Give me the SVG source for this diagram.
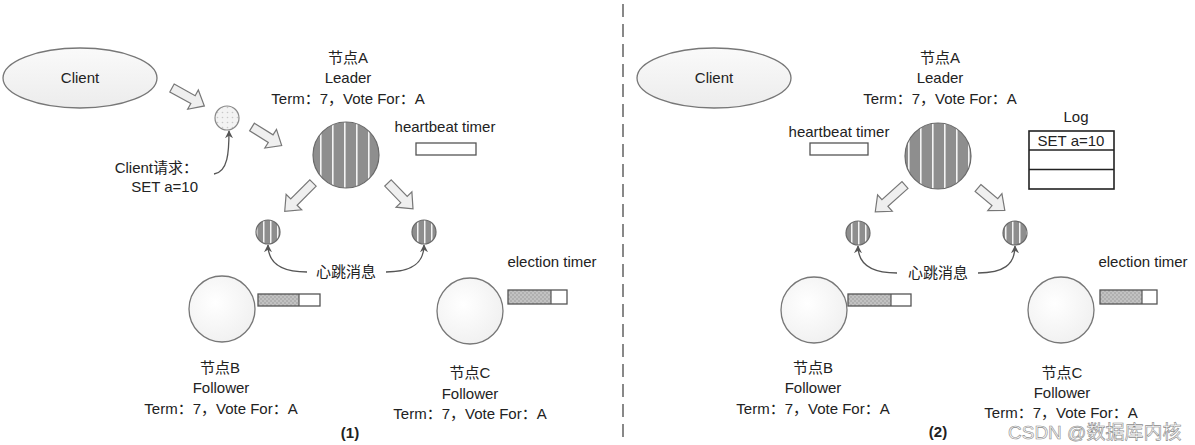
<svg xmlns="http://www.w3.org/2000/svg" width="1195" height="445" viewBox="0 0 1195 445">
<defs>
  <linearGradient id="ellG" x1="0" y1="0" x2="0" y2="1">
    <stop offset="0" stop-color="#fafafa"/>
    <stop offset="1" stop-color="#ececec"/>
  </linearGradient>
  <radialGradient id="folG" cx="0.4" cy="0.4" r="0.7">
    <stop offset="0" stop-color="#ffffff"/>
    <stop offset="1" stop-color="#efefef"/>
  </radialGradient>
  <pattern id="stripes" patternUnits="userSpaceOnUse" width="12" height="10" x="2">
    <rect width="12" height="10" fill="#8e8e8e"/>
    <rect x="6" width="1.6" height="10" fill="#f4f4f4"/>
  </pattern>
  <pattern id="stripesS" patternUnits="userSpaceOnUse" width="7" height="10" x="1">
    <rect width="7" height="10" fill="#8e8e8e"/>
    <rect x="3" width="1.5" height="10" fill="#f4f4f4"/>
  </pattern>
  <pattern id="dots" patternUnits="userSpaceOnUse" width="5" height="5">
    <rect width="5" height="5" fill="#f3f3f3"/>
    <circle cx="2.5" cy="2.5" r="0.8" fill="#c8c8c8"/>
  </pattern>
  <pattern id="timerDots" patternUnits="userSpaceOnUse" width="4" height="4">
    <rect width="4" height="4" fill="#b0b0b0"/>
    <circle cx="1" cy="1" r="0.8" fill="#dadada"/>
    <circle cx="3" cy="3" r="0.8" fill="#dadada"/>
  </pattern>
  <marker id="ah" viewBox="0 0 10 10" refX="9" refY="5" markerWidth="8" markerHeight="8" orient="auto" markerUnits="userSpaceOnUse">
    <path d="M0,0 L10,5 L0,10 L3,5 Z" fill="#555"/>
  </marker>
</defs>
<style>
  text { font-family: "Liberation Sans", "Noto Sans CJK SC", sans-serif; font-size: 15px; fill: #222; }
  .mid { text-anchor: middle; }
  .end { text-anchor: end; }
  .bold { font-weight: bold; }
  .client { fill: url(#ellG); stroke: #777; stroke-width: 1.3; }
  .fol { fill: url(#folG); stroke: #777; stroke-width: 1.3; }
  .lead { fill: url(#stripes); stroke: #6a6a6a; stroke-width: 1.2; }
  .msg { fill: url(#stripesS); stroke: #6a6a6a; stroke-width: 1.2; }
  .req { fill: url(#dots); stroke: #888; stroke-width: 1.2; }
  .box { fill: #ffffff; stroke: #555; stroke-width: 1.3; }
  .tfill { fill: url(#timerDots); stroke: none; }
  .tframe { fill: none; stroke: #555; stroke-width: 1.3; }
  .logbox { fill: #ffffff; stroke: #222; stroke-width: 1.6; }
  .block { fill: #efefef; stroke: #777; stroke-width: 1.2; stroke-linejoin: miter; }
  .curve { fill: none; stroke: #555; stroke-width: 1.3; marker-end: url(#ah); }
  .divider { stroke: #888; stroke-width: 2; stroke-dasharray: 13 7; }
  .wm { font-size: 19px; fill: #ffffff; stroke: #8a8a8a; stroke-width: 0.6; }
</style>

<line class="divider" x1="623" y1="4" x2="623" y2="441"/>

<!-- ===== Panel 1 ===== -->
<g id="p1-client">
  <ellipse class="client" cx="80" cy="78" rx="77" ry="30"/>
  <text class="mid" x="80" y="83">Client</text>
</g>
<g id="p1-request">
  <circle class="req" cx="227" cy="118" r="12"/>
  <text class="end" x="198" y="173">Client请求：</text>
  <text class="end" x="198" y="192">SET a=10</text>
</g>
<g id="p1-nodeA">
  <text class="mid" x="348" y="63">节点A</text>
  <text class="mid" x="348" y="83">Leader</text>
  <text class="mid" x="348" y="104">Term：7，Vote For：A</text>
  <circle class="lead" cx="346" cy="155" r="33"/>
</g>
<g id="p1-heartbeat-timer">
  <text class="mid" x="445" y="132">heartbeat timer</text>
  <rect class="box" x="416" y="143" width="60" height="12"/>
</g>
<g id="p1-msgB"><circle class="msg" cx="268" cy="232" r="12"/></g>
<g id="p1-msgC"><circle class="msg" cx="424" cy="232" r="12"/></g>
<g id="p1-hb-label"><text class="mid" x="346" y="277">心跳消息</text></g>
<g id="p1-nodeB">
  <circle class="fol" cx="222" cy="309" r="33"/>
  <rect class="tfill" x="258" y="294" width="41" height="12"/>
  <rect class="tframe" x="258" y="294" width="62" height="12"/>
  <line x1="299" y1="294" x2="299" y2="306" stroke="#555" stroke-width="1.2"/>
  <text class="mid" x="220" y="373">节点B</text>
  <text class="mid" x="221" y="393">Follower</text>
  <text class="mid" x="221" y="414">Term：7，Vote For：A</text>
</g>
<g id="p1-nodeC">
  <text class="mid" x="552" y="267">election timer</text>
  <circle class="fol" cx="470" cy="311" r="33"/>
  <rect class="tfill" x="508" y="290" width="43" height="14"/>
  <rect class="tframe" x="508" y="290" width="59" height="14"/>
  <line x1="551" y1="290" x2="551" y2="304" stroke="#555" stroke-width="1.2"/>
  <text class="mid" x="470" y="378">节点C</text>
  <text class="mid" x="470" y="399">Follower</text>
  <text class="mid" x="470" y="419">Term：7，Vote For：A</text>
</g>
<g id="p1-caption"><text class="mid bold" x="350" y="438">(1)</text></g>

<!-- ===== Panel 2 ===== -->
<g id="p2-client">
  <ellipse class="client" cx="714" cy="78" rx="77" ry="30"/>
  <text class="mid" x="714" y="83">Client</text>
</g>
<g id="p2-nodeA">
  <text class="mid" x="940" y="63">节点A</text>
  <text class="mid" x="940" y="83">Leader</text>
  <text class="mid" x="940" y="104">Term：7，Vote For：A</text>
  <circle class="lead" cx="938" cy="156" r="33"/>
</g>
<g id="p2-heartbeat-timer">
  <text class="mid" x="839" y="137">heartbeat timer</text>
  <rect class="box" x="810" y="143" width="58" height="12"/>
</g>
<g id="p2-log">
  <text class="mid" x="1076" y="122">Log</text>
  <rect class="logbox" x="1029" y="131" width="85" height="58"/>
  <line x1="1029" y1="150" x2="1114" y2="150" stroke="#222" stroke-width="1.6"/>
  <line x1="1029" y1="169.5" x2="1114" y2="169.5" stroke="#222" stroke-width="1.6"/>
  <text class="mid" x="1071" y="146">SET a=10</text>
</g>
<g id="p2-msgB"><circle class="msg" cx="858" cy="233" r="12"/></g>
<g id="p2-msgC"><circle class="msg" cx="1015" cy="233" r="12"/></g>
<g id="p2-hb-label"><text class="mid" x="938" y="278">心跳消息</text></g>
<g id="p2-nodeB">
  <circle class="fol" cx="814" cy="310" r="33"/>
  <rect class="tfill" x="848" y="294" width="43" height="12"/>
  <rect class="tframe" x="848" y="294" width="63" height="12"/>
  <line x1="891" y1="294" x2="891" y2="306" stroke="#555" stroke-width="1.2"/>
  <text class="mid" x="813" y="373">节点B</text>
  <text class="mid" x="813" y="393">Follower</text>
  <text class="mid" x="813" y="414">Term：7，Vote For：A</text>
</g>
<g id="p2-nodeC">
  <text class="mid" x="1143" y="267">election timer</text>
  <circle class="fol" cx="1061" cy="310" r="33"/>
  <rect class="tfill" x="1100" y="290" width="42" height="14"/>
  <rect class="tframe" x="1100" y="290" width="57" height="14"/>
  <line x1="1142" y1="290" x2="1142" y2="304" stroke="#555" stroke-width="1.2"/>
  <text class="mid" x="1062" y="378">节点C</text>
  <text class="mid" x="1062" y="398">Follower</text>
  <text class="mid" x="1061" y="418">Term：7，Vote For：A</text>
</g>
<g id="p2-caption"><text class="mid bold" x="938" y="437">(2)</text></g>

<!-- ===== Connectors ===== -->
<g id="connectors">
  <polygon class="block" transform="translate(172,88) rotate(29)" points="0,-4.5 24,-4.5 24,-11 37,0 24,11 24,4.5 0,4.5"/>
  <polygon class="block" transform="translate(252,127) rotate(32)" points="0,-4.5 22,-4.5 22,-11 35,0 22,11 22,4.5 0,4.5"/>
  <polygon class="block" transform="translate(313,183) rotate(135)" points="0,-4.5 27,-4.5 27,-11 40,0 27,11 27,4.5 0,4.5"/>
  <polygon class="block" transform="translate(388,183) rotate(46)" points="0,-4.5 23,-4.5 23,-11 36,0 23,11 23,4.5 0,4.5"/>
  <polygon class="block" transform="translate(905,185) rotate(138)" points="0,-4.5 27,-4.5 27,-11 40,0 27,11 27,4.5 0,4.5"/>
  <polygon class="block" transform="translate(978,188) rotate(40)" points="0,-4.5 22,-4.5 22,-11 35,0 22,11 22,4.5 0,4.5"/>
  <path class="curve" d="M214,174 C228,172 229,152 229,131"/>
  <path class="curve" d="M307,272 C282,272 268,264 268,245"/>
  <path class="curve" d="M386,272 C411,272 424,264 424,245"/>
  <path class="curve" d="M897,273 C872,273 858,265 858,246"/>
  <path class="curve" d="M978,273 C1003,273 1015,265 1015,246"/>
</g>

<text class="wm" x="1008" y="439">CSDN @数据库内核</text>
</svg>
